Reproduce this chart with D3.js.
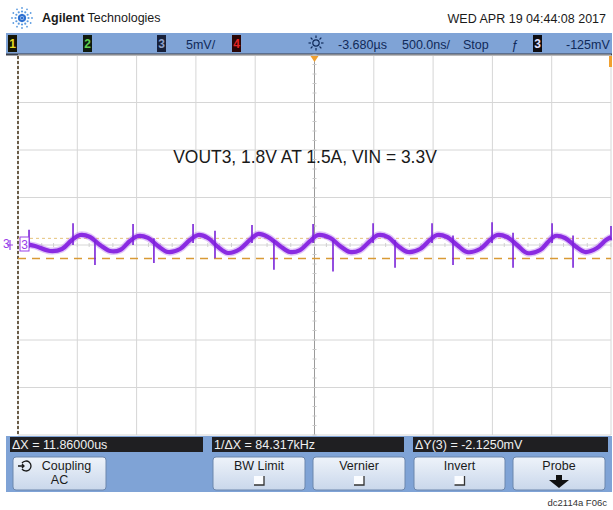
<!DOCTYPE html>
<html><head><meta charset="utf-8">
<script src="https://cdn.jsdelivr.net/npm/d3@7"></script>
<style>
html,body{margin:0;padding:0;background:#fff;}
svg{display:block;}
text{font-family:"Liberation Sans Narrow","Liberation Sans",Arial,sans-serif;}
</style></head>
<body>
<svg id="c" width="613" height="510"></svg>
<script>
// ---- data (time in µs from left edge of screen, voltage in mV, AC coupled) ----
const title = "VOUT3, 1.8V AT 1.5A, VIN = 3.3V";
const timePerDiv = 0.5;      // 500 ns/div
const voltsPerDiv = 5;       // 5 mV/div
const traceT = [0.017,0.143,0.27,0.371,0.455,0.523,0.607,0.691,0.776,0.86,0.944,1.012,1.096,1.18,1.265,1.366,1.45,1.518,1.602,1.686,1.771,1.872,1.956,2.024,2.108,2.209,2.293,2.378,2.462,2.53,2.631,2.715,2.8,2.884,2.968,3.036,3.12,3.204,3.289,3.39,3.474,3.533,3.617,3.702,3.786,3.896,3.98,4.039,4.123,4.208,4.292,4.402,4.469,4.528,4.612,4.697,4.781,4.882,4.958,5.0];
const traceV = [0.2,-0.1,-0.63,-0.42,0.53,1.05,0.84,0,-0.63,-0.53,0.42,0.95,0.74,-0.1,-0.74,-0.42,0.53,1.05,0.74,-0.2,-0.84,-0.42,0.53,1.16,0.84,-0.1,-0.74,-0.53,0.42,1.05,0.74,-0.1,-0.74,-0.53,0.42,1.05,0.84,-0.1,-0.74,-0.42,0.53,1.05,0.84,0,-0.74,-0.42,0.53,1.05,0.84,0,-0.84,-0.53,0.32,0.95,0.74,-0.1,-0.74,-0.32,0.53,0.84];
const spikeT    = [0.093,0.464,0.97,1.476,1.973,2.488,2.994,3.491,3.997,4.503,5.0,0.649,1.146,1.661,2.158,2.656,3.179,3.668,4.174,4.68];
const spikeHigh = [1.6,2.3,2.2,2.2,2.1,2.2,2.3,2.3,2.4,2.3,2.0,0.5,0.7,1.5,0.5,0.5,0.5,1.0,1.3,1.0];
const spikeLow  = [-0.3,0,0,0.2,0.2,0.2,0.2,0.2,0.2,0.2,0.5,-2.1,-1.9,-1.4,-2.6,-2.8,-2.4,-2.1,-2.4,-2.4];
const cursorY = [0.7, -1.425];
const headerItems = ["5mV/", "-3.680µs", "500.0ns/", "Stop", "-125mV"];
const measureLabels = ["ΔX = 11.86000us", "1/ΔX = 84.317kHz", "ΔY(3) = -2.1250mV"];
const softKeys = [["Coupling","AC"],["BW Limit",""],["Vernier",""],["Invert",""],["Probe",""]];
const dateText = "WED APR 19 04:44:08 2017";
const credit = "dc2114a F06c";

// ---- layout ----
const svg = d3.select("#c");
const G = {x0:18, x1:611, y0:55, y1:435};
const x = d3.scaleLinear().domain([0, 10*timePerDiv]).range([G.x0, G.x1]);
const y = d3.scaleLinear().domain([-4*voltsPerDiv, 4*voltsPerDiv]).range([G.y1, G.y0]);
const blue = "#7fa3d6";

svg.append("rect").attr("width",613).attr("height",510).attr("fill","#fff");

// logo
const logo = svg.append("g").attr("transform","translate(22,18)");
for (let k=0;k<12;k++){
  const a = k*Math.PI/6;
  [[3,1.2],[6.5,1.1],[10,0.9]].forEach(([r,s],i)=>{
    logo.append("circle").attr("cx",r*Math.cos(a)).attr("cy",r*Math.sin(a)).attr("r",s)
      .attr("fill", i===0?"#2c6fd0":"#5b9be0");
  });
}
logo.append("circle").attr("r",1.6).attr("fill","#2c6fd0");
svg.append("text").attr("x",42).attr("y",22).attr("font-size",12.5).attr("font-weight","bold")
  .attr("fill","#1a1a1a").style("font-family","'Liberation Sans',Arial,sans-serif")
  .text("Agilent").append("tspan").attr("font-weight","normal").text(" Technologies");
svg.append("text").attr("x",606).attr("y",23).attr("text-anchor","end").attr("font-size",12.5)
  .attr("fill","#1a1a1a").text(dateText);

// header bar
svg.append("rect").attr("x",6).attr("y",33).attr("width",606).attr("height",21).attr("fill",blue);
svg.append("line").attr("x1",6).attr("x2",612).attr("y1",54.5).attr("y2",54.5).attr("stroke","#3a3f4a").attr("stroke-width",2);
function chanBox(cx, label, fill, col){
  svg.append("rect").attr("x",cx).attr("y",35).attr("width",9).attr("height",17).attr("fill",fill);
  svg.append("text").attr("x",cx+4.5).attr("y",48).attr("text-anchor","middle").attr("font-size",12)
    .attr("font-weight","bold").attr("fill",col).text(label);
}
chanBox(8,"1","#151505","#e6d820");
chanBox(83,"2","#0f1a0f","#5fcf4f");
chanBox(157,"3","#17203a","#8ea0c8");
chanBox(232,"4","#2a0606","#e02525");
chanBox(533,"3","#0d0d12","#e0e0ff");
const hdrStyle = s => s.attr("font-size",12.5).attr("fill","#102a5a");
hdrStyle(svg.append("text").attr("x",186).attr("y",49)).text(headerItems[0]);
hdrStyle(svg.append("text").attr("x",338).attr("y",49)).text(headerItems[1]);
hdrStyle(svg.append("text").attr("x",402).attr("y",49)).text(headerItems[2]);
hdrStyle(svg.append("text").attr("x",463).attr("y",49)).text(headerItems[3]);
hdrStyle(svg.append("text").attr("x",566).attr("y",49)).text(headerItems[4]);
hdrStyle(svg.append("text").attr("x",511).attr("y",49)).attr("font-style","italic").text("ƒ");
// trigger sun icon
const sun = svg.append("g").attr("transform","translate(316,43)");
sun.append("circle").attr("r",3.2).attr("fill","none").attr("stroke","#102a5a").attr("stroke-width",1.2);
for (let k=0;k<8;k++){const a=k*Math.PI/4;
  sun.append("line").attr("x1",5*Math.cos(a)).attr("y1",5*Math.sin(a)).attr("x2",7.5*Math.cos(a)).attr("y2",7.5*Math.sin(a))
    .attr("stroke","#102a5a").attr("stroke-width",1.2);}

// grid
const grid = svg.append("g");
grid.append("rect").attr("x",G.x0).attr("y",G.y0+1).attr("width",G.x1-G.x0).attr("height",G.y1-G.y0-1).attr("fill","#fff");
x.ticks(10).forEach(t=>{
  grid.append("line").attr("x1",x(t)).attr("x2",x(t)).attr("y1",G.y0+1).attr("y2",G.y1)
    .attr("stroke", t===5*timePerDiv ? "#9a9a9a" : "#d6d6d6").attr("stroke-width",1);
});
y.ticks(8).forEach(v=>{
  grid.append("line").attr("x1",G.x0).attr("x2",G.x1).attr("y1",y(v)).attr("y2",y(v))
    .attr("stroke","#d6d6d6").attr("stroke-width",1);
});
// minor ticks on centre lines
d3.range(-20,20.01,1).forEach(v=>{
  grid.append("line").attr("x1",x(2.5)-2).attr("x2",x(2.5)+2).attr("y1",y(v)).attr("y2",y(v)).attr("stroke","#c8c8c8");
});
d3.range(0,5.01,0.1).forEach(t=>{
  grid.append("line").attr("x1",x(t)).attr("x2",x(t)).attr("y1",y(0)-2).attr("y2",y(0)+2).attr("stroke","#d0d0d0");
});
// left cursor (X1) dashed
svg.append("line").attr("x1",x(0)).attr("x2",x(0)).attr("y1",G.y0+1).attr("y2",G.y1)
  .attr("stroke","#4a3a20").attr("stroke-width",1.6).attr("stroke-dasharray","3,2");
// trigger markers
svg.append("path").attr("d",`M${x(2.5)-4},${G.y0+1}L${x(2.5)+4},${G.y0+1}L${x(2.5)},${G.y0+7}Z`).attr("fill","#f0a030");
svg.append("rect").attr("x",G.x1-2).attr("y",G.y0+1).attr("width",3).attr("height",11).attr("fill","#f0a030");

// title (condensed look)
svg.append("text").attr("transform","translate(305,163) scale(0.97,1)").attr("text-anchor","middle").attr("font-size",18)
  .attr("fill","#1a1a1a").text(title);

// cursors Y
svg.append("line").attr("x1",G.x0).attr("x2",G.x1).attr("y1",y(cursorY[0])).attr("y2",y(cursorY[0]))
  .attr("stroke","#e6c27a").attr("stroke-width",1).attr("stroke-dasharray","3,3");
svg.append("line").attr("x1",G.x0).attr("x2",G.x1).attr("y1",y(cursorY[1])).attr("y2",y(cursorY[1]))
  .attr("stroke","#d99a35").attr("stroke-width",1.6).attr("stroke-dasharray","8,6");

// trace
const pts = traceT.map((t,i)=>[t,traceV[i]]);
const line = d3.line().x(d=>x(d[0])).y(d=>y(d[1])).curve(d3.curveCatmullRom.alpha(0.5));
svg.append("path").attr("d",line(pts)).attr("fill","none").attr("stroke","#a855f0").attr("stroke-width",7).attr("opacity",0.35);
svg.append("path").attr("d",line(pts)).attr("fill","none").attr("stroke","#8a2be2").attr("stroke-width",4.2);
spikeT.forEach((t,i)=>{
  svg.append("line").attr("x1",x(t)).attr("x2",x(t)).attr("y1",y(spikeHigh[i])).attr("y2",y(spikeLow[i]))
    .attr("stroke","#7a22d8").attr("stroke-width",1.6);
});
// channel 3 ground marker
svg.append("text").attr("x",3).attr("y",y(0)+3).attr("font-size",12).attr("fill","#9a40e8").text("3");
svg.append("path").attr("d",`M10,${y(0)-5}L10,${y(0)+5}M7,${y(0)}L13,${y(0)}`).attr("stroke","#9a40e8").attr("stroke-width",1.2);
svg.append("rect").attr("x",20).attr("y",y(0)-8).attr("width",9).attr("height",14).attr("fill","#fff").attr("stroke","#9a40e8");
svg.append("text").attr("x",24.5).attr("y",y(0)+4).attr("text-anchor","middle").attr("font-size",12).attr("fill","#9a40e8").text("3");

// bottom measurement bar
svg.append("rect").attr("x",6).attr("y",436).attr("width",606).attr("height",56).attr("fill",blue);
[[10,203],[212,404],[413,608]].forEach(([a,b],i)=>{
  svg.append("rect").attr("x",a).attr("y",437).attr("width",b-a).attr("height",15).attr("fill","#1f1f22");
  svg.append("text").attr("x",a+2).attr("y",449).attr("font-size",12.5).attr("fill","#f0f0f0").text(measureLabels[i]);
});
// soft keys
const defs = svg.append("defs");
const gr = defs.append("linearGradient").attr("id","btn").attr("x1",0).attr("y1",0).attr("x2",0).attr("y2",1);
gr.append("stop").attr("offset","0%").attr("stop-color","#eef3fa");
gr.append("stop").attr("offset","100%").attr("stop-color","#c9d7eb");
const keyX = [[13,106],[213,305],[313,405],[414,505],[513,605]];
keyX.forEach(([a,b],i)=>{
  svg.append("rect").attr("x",a).attr("y",457).attr("width",b-a).attr("height",33).attr("rx",3)
    .attr("fill","url(#btn)").attr("stroke","#6d87ad").attr("stroke-width",1);
  const cx=(a+b)/2;
  svg.append("text").attr("x", i===0? cx+7 : cx).attr("y",470).attr("text-anchor","middle").attr("font-size",12.5)
    .attr("fill","#1a1a1a").text(softKeys[i][0]);
  if (softKeys[i][1]) svg.append("text").attr("x",cx).attr("y",484).attr("text-anchor","middle").attr("font-size",12.5)
    .attr("fill","#1a1a1a").text(softKeys[i][1]);
  if (i>=1 && i<=3){
    svg.append("rect").attr("x",cx-5).attr("y",476).attr("width",10).attr("height",9).attr("fill","#fafcff");
    svg.append("path").attr("d",`M${cx-5},485L${cx+5},485L${cx+5},476`).attr("fill","none").attr("stroke","#333").attr("stroke-width",1.3);
  }
  if (i===4){
    svg.append("path").attr("d",`M${cx-3},475L${cx+3},475L${cx+3},480L${cx+10},480L${cx},488L${cx-10},480L${cx-3},480Z`).attr("fill","#111");
  }
});
// coupling icon
const ci = svg.append("g").attr("transform","translate(26,466)");
ci.append("path").attr("d","M-4,-3A5,5 0 1,1 -4,3").attr("fill","none").attr("stroke","#1a1a1a").attr("stroke-width",1.3);
ci.append("path").attr("d","M-8,0L-2,0M-4,-2L-2,0L-4,2").attr("fill","none").attr("stroke","#1a1a1a").attr("stroke-width",1.3);

svg.append("text").attr("x",607).attr("y",506).attr("text-anchor","end").attr("font-size",9.5)
  .attr("fill","#333").style("font-family","'Liberation Sans',Arial,sans-serif").text(credit);
</script>
</body></html>
